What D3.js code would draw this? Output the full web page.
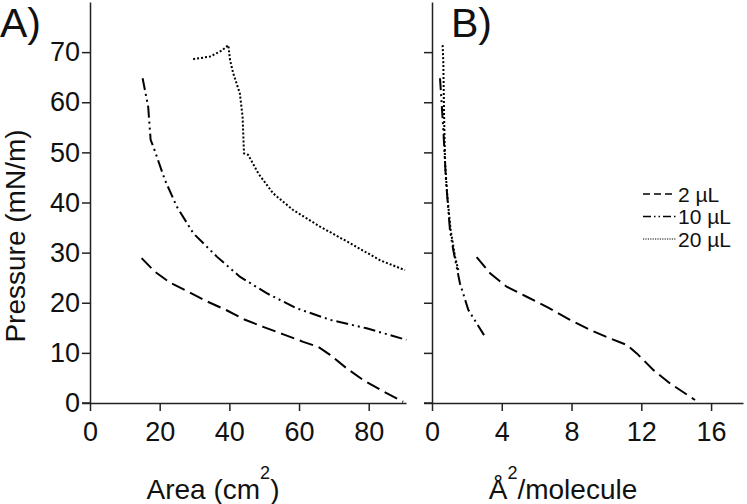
<!DOCTYPE html>
<html>
<head>
<meta charset="utf-8">
<script src="https://cdn.jsdelivr.net/npm/d3@7"></script>
<style>
  body { margin: 0; background: #fff; }
  text { font-family: "Liberation Sans", Arial, sans-serif; fill: #111; }
</style>
</head>
<body>
<div id="chart"></div>
<script>
// data: [x, pressure]
var areaV2 = [[14.8,28.9],[18.6,26.2],[23,24],[28.2,22.2],[33.5,20.3],[39.2,18.5],[44.5,16.6],[49.7,15.2],[55.5,13.7],[61.2,12.2],[65.5,11.2],[68.9,9.6],[73.7,6.9],[78.4,4.6],[84.2,2.3],[89.9,0.25]];
var areaV10 = [[15.1,64.8],[16.7,59.1],[17.4,52.5],[18.2,51.1],[21.5,44.5],[24.9,39.2],[29.6,33.9],[36.4,29.2],[43,25.2],[50.7,21.9],[59.3,18.9],[68.9,16.6],[79.4,14.9],[90.8,12.6]];
var areaV20 = [[29.6,68.6],[34.4,69.1],[37.8,70.3],[39.7,71.4],[40.2,68.4],[41.1,65.8],[43,61.8],[43.8,57.1],[44.2,49.8],[45.4,49.5],[48.3,45.8],[52.6,41.8],[58.3,38.5],[66,35.2],[74.6,31.9],[83.2,28.5],[90.4,26.5]];

var molV2 = [[2.56,29.1],[3.33,25.9],[4.28,23.2],[5.43,21.2],[6.58,19.2],[7.91,16.6],[9.06,14.6],[10.2,12.9],[11.16,11.6],[11.74,9.9],[12.69,6.6],[13.65,3.9],[15.08,0.6]];
var molV10 = [[0.46,64.8],[0.65,54.5],[0.8,44.5],[1.03,34.5],[1.22,30.5],[1.6,23.9],[2.08,18.6],[2.56,15.9],[3.1,12.9]];
var molV20 = [[0.61,71.4],[0.65,67.8],[0.69,57.8],[0.75,47.8],[0.88,41.2],[1.07,34.5],[1.32,29.2],[1.51,26.5]];

var seriesNames = ["2 µL", "10 µL", "20 µL"];
var pressureTicks = [0, 10, 20, 30, 40, 50, 60, 70];
var areaTicks = [0, 20, 40, 60, 80];
var molTicks = [0, 4, 8, 12, 16];

var dashes = ["14,6", "12,4,2,4,2,4", "2,2"];

var W = 747, H = 504;
var svg = d3.select("#chart").append("svg")
  .attr("width", W).attr("height", H);

var y = d3.scaleLinear().domain([0, 80]).range([403, 2]);
var xA = d3.scaleLinear().domain([0, 90.7]).range([90, 406]);
var xB = d3.scaleLinear().domain([0, 17.83]).range([432, 743]);

function styleAxis(g) {
  g.select(".domain").attr("stroke", "#222").attr("stroke-width", 1.5);
  g.selectAll(".tick line").attr("stroke", "#222").attr("stroke-width", 1.5);
  g.selectAll(".tick text").style("font-size", "27px")
    .style("font-family", "'Liberation Sans', Arial, sans-serif").attr("fill", "#111");
}

// panel A axes
svg.append("g").attr("transform", "translate(90,0)")
  .call(d3.axisLeft(y).tickValues(pressureTicks).tickSize(8).tickPadding(2).tickSizeOuter(0))
  .call(styleAxis);
svg.append("g").attr("transform", "translate(0,403)")
  .call(d3.axisBottom(xA).tickValues(areaTicks).tickSize(8).tickPadding(11).tickSizeOuter(0))
  .call(styleAxis);

// panel B axes
svg.append("g").attr("transform", "translate(432,0)")
  .call(d3.axisLeft(y).tickValues(pressureTicks).tickSize(8).tickFormat("").tickSizeOuter(0))
  .call(styleAxis);
svg.append("g").attr("transform", "translate(0,403)")
  .call(d3.axisBottom(xB).tickValues(molTicks).tickSize(8).tickPadding(11).tickSizeOuter(0))
  .call(styleAxis);

// extend x axis lines left under the y ticks
svg.append("line").attr("x1", 82).attr("x2", 90).attr("y1", 403).attr("y2", 403)
  .attr("stroke", "#222").attr("stroke-width", 1.5);
svg.append("line").attr("x1", 424).attr("x2", 432).attr("y1", 403).attr("y2", 403)
  .attr("stroke", "#222").attr("stroke-width", 1.5);

var lineA = d3.line().x(d => xA(d[0])).y(d => y(d[1]));
var lineB = d3.line().x(d => xB(d[0])).y(d => y(d[1]));

[areaV2, areaV10, areaV20].forEach(function(s, i) {
  svg.append("path").datum(s).attr("d", lineA)
    .attr("fill", "none").attr("stroke", "#000")
    .attr("stroke-width", 2).attr("stroke-dasharray", dashes[i]);
});
[molV2, molV10, molV20].forEach(function(s, i) {
  svg.append("path").datum(s).attr("d", lineB)
    .attr("fill", "none").attr("stroke", "#000")
    .attr("stroke-width", 2).attr("stroke-dasharray", dashes[i]);
});

// legend
var leg = svg.append("g").attr("transform", "translate(643,194)");
seriesNames.forEach(function(name, i) {
  var row = leg.append("g").attr("transform", "translate(0," + (i * 22.5) + ")");
  row.append("line").attr("x1", 0).attr("x2", 33).attr("y1", 0).attr("y2", 0)
    .attr("stroke", "#000").attr("stroke-width", i == 2 ? 1.2 : 1.5)
    .attr("stroke-dasharray", i == 0 ? "7,4" : i == 1 ? "8,3,1.5,3,1.5,3" : "1.2,1.2");
  row.append("text").attr("x", 35).attr("y", 7.5)
    .style("font-size", "21px").text(name);
});

// panel labels
svg.append("text").attr("x", 0).attr("y", 37).style("font-size", "41px").text("A)");
svg.append("text").attr("x", 451).attr("y", 37).style("font-size", "41px").text("B)");

// axis titles
svg.append("text")
  .attr("transform", "translate(25,236) rotate(-90)")
  .attr("text-anchor", "middle").style("font-size", "28px")
  .text("Pressure (mN/m)");

var tA = svg.append("text").attr("x", 213).attr("y", 499)
  .attr("text-anchor", "middle").style("font-size", "28px");
tA.append("tspan").text("Area (cm");
tA.append("tspan").attr("dy", -20).style("font-size", "18px").text("2");
tA.append("tspan").attr("dy", 20).text(")");

var tB = svg.append("text").attr("x", 563).attr("y", 499)
  .attr("text-anchor", "middle").style("font-size", "28px");
tB.append("tspan").text("Å");
tB.append("tspan").attr("dy", -20).style("font-size", "18px").text("2");
tB.append("tspan").attr("dy", 20).text("/molecule");
</script>
</body>
</html>
